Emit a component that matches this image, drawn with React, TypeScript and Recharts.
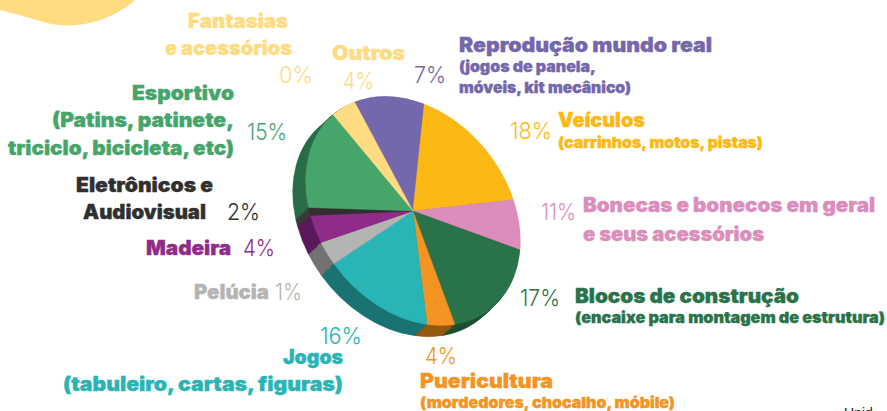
import { Cell, Pie, PieChart } from "recharts"

const sliceNames = [
  "Reprodução mundo real",
  "Veículos",
  "Bonecas e bonecos",
  "Blocos de construção",
  "Puericultura",
  "Jogos",
  "Pelúcia",
  "Madeira",
  "Eletrônicos e Audiovisual",
  "Esportivo",
  "Fantasias e acessórios",
]
const sliceValues = [10.8, 17.6, 7.1, 17.3, 4.3, 15.3, 3.2, 3.8, 1.1, 15.4, 4.2]
const topColors = ["#7467AC", "#FDB913", "#DC8DBC", "#2A7249", "#F39423", "#29B5B5", "#B4B4B2", "#8F2C8A", "#303030", "#46A56A", "#FFDC82"]
const sideColors = ["#4E4578", "#A87B0C", "#94607E", "#1D5236", "#955A12", "#1B7474", "#747474", "#5B1A5C", "#3A3A3A", "#2A6E48", "#A89058"]
const depthSteps = [14, 13, 12, 11, 10, 9, 8, 7, 6, 5, 4, 3, 2, 1]

const sliceData = sliceNames.map((name, i) => ({ name, value: sliceValues[i] }))

const YELLOW = "#FFDC82"
const BOLD = "Inter, sans-serif"
const LIGHT = "Inter, sans-serif"

const Disc = ({ colors, dx, dy }: { colors: string[]; dx: number; dy: number }) => (
  <div
    style={{
      position: "absolute",
      left: 413.3 - 150 + dx,
      top: 210.7 - 150 + dy,
      width: 300,
      height: 300,
      transform: "rotate(52deg) scale(1.25, 0.95)",
    }}
  >
    <PieChart width={300} height={300} margin={{ top: 0, right: 0, bottom: 0, left: 0 }}>
      <Pie
        data={sliceData}
        dataKey="value"
        nameKey="name"
        cx={150}
        cy={150}
        outerRadius={100}
        startAngle={-192.9}
        endAngle={-552.9}
        stroke="none"
        labelLine={false}
        isAnimationActive={false}
      >
        {sliceData.map((s, i) => (
          <Cell key={s.name} fill={colors[i]} stroke={colors[i]} strokeWidth={0.3} />
        ))}
      </Pie>
    </PieChart>
  </div>
)

type TxtProps = { x: number; y: number; w: number; c: string; s?: number; children: string }
const Head = ({ x, y, w, c, s = 20, children }: TxtProps) => (
  <text
    x={x}
    y={y}
    fill={c}
    stroke={c}
    strokeWidth={0.35}
    fontFamily={BOLD}
    fontWeight={900}
    fontSize={s}
    textLength={w}
    lengthAdjust="spacingAndGlyphs"
  >
    {children}
  </text>
)
const Pct = ({ x, y, w, c, s = 23, children }: TxtProps) => (
  <text x={x} y={y} fill={c} fontFamily={LIGHT} fontWeight={300} fontSize={s} textLength={w} lengthAdjust="spacingAndGlyphs">
    {children}
  </text>
)

const App = () => (
  <div style={{ position: "absolute", left: 0, top: 0, width: 887, height: 411, overflow: "hidden", background: "#fff" }}>
    <svg width={887} height={411} style={{ position: "absolute", left: 0, top: 0 }}>
      <path d="M0 0 L135 0 Q115 18 85 24 Q60 28 40 21 Q20 15 0 10 Z" fill={YELLOW} />
    </svg>
    {depthSteps.map((d) => (
      <Disc key={d} colors={sideColors} dx={-d * 0.96} dy={d * 0.84} />
    ))}
    <Disc colors={topColors} dx={0} dy={0} />
    <svg width={887} height={411} style={{ position: "absolute", left: 0, top: 0 }}>
      <Head x={188} y={28} w={100} c={YELLOW}>Fantasias</Head>
      <Head x={165} y={55} w={127} c={YELLOW}>e acessórios</Head>
      <Pct x={279} y={83} w={34} c={YELLOW}>0%</Pct>
      <Head x={332} y={60} w={73} c={YELLOW}>Outros</Head>
      <Pct x={343} y={89} w={31} c={YELLOW}>4%</Pct>
      <Pct x={414} y={83} w={32} c="#7467AC">7%</Pct>
      <Head x={459} y={52} w={253} c="#7467AC">Reprodução mundo real</Head>
      <Head x={459} y={72} w={137} c="#7467AC" s={15}>(jogos de panela,</Head>
      <Head x={459} y={93} w={172} c="#7467AC" s={15}>móveis, kit mecânico)</Head>
      <Pct x={510} y={139} w={42} c="#FDB913">18%</Pct>
      <Head x={558} y={127} w={87} c="#FDB913">Veículos</Head>
      <Head x={558} y={148} w={205} c="#FDB913" s={15}>(carrinhos, motos, pistas)</Head>
      <Pct x={541} y={220} w={35} c="#DC8DBC">11%</Pct>
      <Head x={583} y={212} w={292} c="#DC8DBC">Bonecas e bonecos em geral</Head>
      <Head x={583} y={241} w={181} c="#DC8DBC">e seus acessórios</Head>
      <Pct x={520} y={306} w={40} c="#2A7249">17%</Pct>
      <Head x={575} y={303} w={224} c="#2A7249">Blocos de construção</Head>
      <Head x={575} y={323} w={310} c="#2A7249" s={15}>(encaixe para montagem de estrutura)</Head>
      <Pct x={425} y={364} w={32} c="#F39423">4%</Pct>
      <Head x={420} y={388} w={133} c="#F39423">Puericultura</Head>
      <Head x={420} y={408} w={255} c="#F39423" s={15}>(mordedores, chocalho, móbile)</Head>
      <Pct x={320} y={344} w={42} c="#29B5B5">16%</Pct>
      <Head x={283} y={364} w={60} c="#29B5B5">Jogos</Head>
      <Head x={63} y={391} w={280} c="#29B5B5">(tabuleiro, cartas, figuras)</Head>
      <Head x={194} y={299} w={75} c="#B4B4B2">Pelúcia</Head>
      <Pct x={275} y={300} w={27} c="#B4B4B2">1%</Pct>
      <Head x={146} y={255} w={85} c="#8F2C8A">Madeira</Head>
      <Pct x={243} y={256} w={32} c="#8F2C8A">4%</Pct>
      <Head x={76} y={192} w={137} c="#303030">Eletrônicos e</Head>
      <Head x={83} y={219} w={123} c="#303030">Audiovisual</Head>
      <Pct x={227} y={220} w={33} c="#303030">2%</Pct>
      <Head x={132} y={100} w={102} c="#46A56A">Esportivo</Head>
      <Head x={52} y={127} w={182} c="#46A56A">(Patins, patinete,</Head>
      <Head x={8} y={155} w={226} c="#46A56A">triciclo, bicicleta, etc)</Head>
      <Pct x={247} y={140} w={40} c="#46A56A">15%</Pct>
      <text x={844} y={418} fontFamily="Liberation Sans, sans-serif" fontSize={14} fill="#222">Unid</text>
    </svg>
  </div>
)

export default App
